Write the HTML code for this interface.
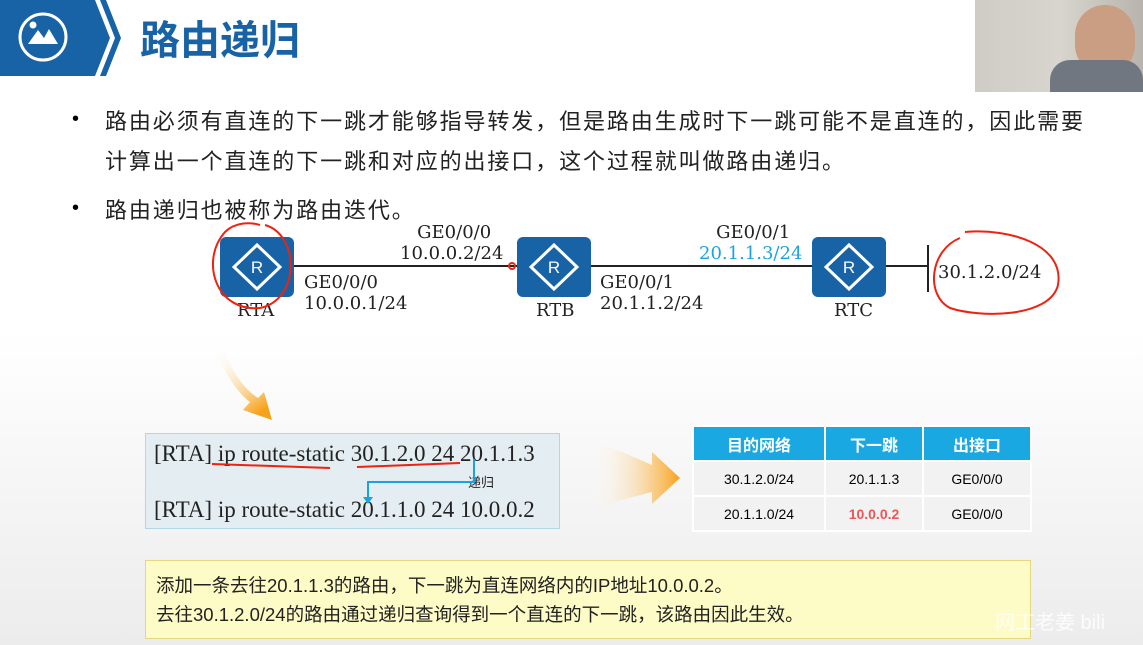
<!DOCTYPE html>
<html><head><meta charset="utf-8"><style>
body{margin:0;width:1143px;height:645px;overflow:hidden;position:relative;font-family:"Liberation Sans","Noto Sans CJK SC",sans-serif;background:linear-gradient(#fff 0,#fff 330px,#ececec 645px);}
.a{position:absolute;white-space:nowrap}
.serif{font-family:"DejaVu Serif","Liberation Serif",serif;font-size:18px;color:#222;line-height:21px}
.bul{font-size:22px;color:#222;letter-spacing:1.9px}
.rt{position:absolute;width:74px;height:60px;background:#1863a6;border-radius:6px}
table{border-collapse:collapse;font-size:14px}
td{border:2px solid #fff;text-align:center;height:31px}
</style></head><body>
<svg class="a" style="left:0;top:0" width="130" height="80">
<polygon points="0,0 95,0 110,38 95,76 0,76" fill="#1863a6"/>
<polygon points="100,0 106,0 121,38 106,76 100,76 115,38" fill="#1863a6"/>
<circle cx="43" cy="37" r="23" fill="none" stroke="#fff" stroke-width="3"/>
<circle cx="33" cy="25" r="3.5" fill="#fff"/>
<polygon points="28,44 38,30 44,38 49,29 58,44" fill="#fff"/>
</svg>
<div class="a" style="left:140px;top:8px;font-size:40px;font-weight:bold;color:#1863a6">路由递归</div>
<div class="a" style="left:975px;top:0;width:168px;height:92px;background:linear-gradient(90deg,#cfccc5,#d8d5ce 50%,#b8b4ad)"><div style="position:absolute;left:100px;top:5px;width:60px;height:70px;border-radius:30px;background:#c99e82"></div><div style="position:absolute;left:75px;top:60px;width:93px;height:32px;background:#707780;border-radius:20px 20px 0 0"></div></div>
<div class="a" style="left:72px;top:108px;font-size:20px">•</div>
<div class="a bul" style="left:105px;top:102px;line-height:40px">路由必须有直连的下一跳才能够指导转发，但是路由生成时下一跳可能不是直连的，因此需要<br>计算出一个直连的下一跳和对应的出接口，这个过程就叫做路由递归。</div>
<div class="a" style="left:72px;top:197px;font-size:20px">•</div>
<div class="a bul" style="left:105px;top:193px">路由递归也被称为路由迭代。</div>
<div class="a" style="left:290px;top:265px;width:638px;height:2px;background:#222"></div>
<div class="a" style="left:927px;top:245px;width:2px;height:47px;background:#222"></div>
<div class="rt" style="left:220px;top:237px"></div>
<div class="rt" style="left:517px;top:237px"></div>
<div class="rt" style="left:812px;top:237px"></div>
<div class="a serif" style="left:237px;top:300px">RTA</div>
<div class="a serif" style="left:536px;top:300px">RTB</div>
<div class="a serif" style="left:834px;top:300px">RTC</div>
<div class="a serif" style="left:304px;top:272px">GE0/0/0<br>10.0.0.1/24</div>
<div class="a serif" style="left:400px;top:222px">&nbsp;&nbsp;&nbsp;GE0/0/0<br>10.0.0.2/24</div>
<div class="a serif" style="left:600px;top:272px">GE0/0/1<br>20.1.1.2/24</div>
<div class="a serif" style="left:699px;top:222px">&nbsp;&nbsp;&nbsp;GE0/0/1<br><span style="color:#19a3e0">20.1.1.3/24</span></div>
<div class="a serif" style="left:938px;top:262px">30.1.2.0/24</div>
<div class="a" style="left:145px;top:433px;width:413px;height:94px;background:#e4edf1;border:1px solid #b3d6e6;font-family:'Liberation Serif',serif;font-size:23px;color:#222">
<div style="position:absolute;left:8px;top:7px">[RTA] ip route-static 30.1.2.0 24 20.1.1.3</div>
<div style="position:absolute;left:8px;top:63px">[RTA] ip route-static 20.1.1.0 24 10.0.0.2</div>
<div style="position:absolute;left:322px;top:38px;font-size:13px;font-family:'Noto Sans CJK SC',sans-serif">递归</div></div>
<table class="a" style="left:692px;top:425px">
<tr style="background:#19a8e2;color:#fff;font-weight:bold;font-size:16px"><td style="width:128px">目的网络</td><td style="width:94px">下一跳</td><td style="width:104px">出接口</td></tr>
<tr style="background:#f2f2f2"><td>30.1.2.0/24</td><td>20.1.1.3</td><td>GE0/0/0</td></tr>
<tr style="background:#f2f2f2"><td>20.1.1.0/24</td><td style="color:#e55;font-weight:bold">10.0.0.2</td><td>GE0/0/0</td></tr></table>
<div class="a" style="left:145px;top:560px;width:884px;height:77px;background:#fdfbc6;border:1px solid #e6d77e;font-size:18.5px;color:#222;line-height:29px">
<div style="position:absolute;left:10px;top:10px">添加一条去往20.1.1.3的路由，下一跳为直连网络内的IP地址10.0.0.2。<br>去往30.1.2.0/24的路由通过递归查询得到一个直连的下一跳，该路由因此生效。</div></div>
<svg class="a" style="left:0;top:0" width="1143" height="645">
<g fill="none" stroke="#fff" stroke-width="3">
<polygon points="257,245 280,267 257,289 234,267"/><polygon points="554,245 577,267 554,289 531,267"/><polygon points="849,245 872,267 849,289 826,267"/></g>
<g fill="#fff" font-size="17" font-family="Liberation Sans" text-anchor="middle"><text x="257" y="273">R</text><text x="554" y="273">R</text><text x="849" y="273">R</text></g>
<g fill="none" stroke="#e21" stroke-width="2">
<path d="M265,225 C300,235 300,300 260,308 C215,312 200,260 225,232 C235,222 250,222 260,225"/>
<path d="M965,232 C1010,228 1065,245 1058,285 C1050,318 980,318 950,308 C925,295 930,250 960,238"/>
<path d="M212,464 L330,468"/><path d="M357,467 L460,463"/>
<circle cx="512" cy="266" r="3"/></g>
<g fill="none" stroke="#19a3e0" stroke-width="2"><path d="M474,459 L474,482 L368,482 L368,500"/></g>
<polygon points="363,497 373,497 368,504" fill="#19a3e0"/>
<defs><linearGradient id="g" x1="0" x2="1"><stop offset="0" stop-color="#fff" stop-opacity="0"/><stop offset="1" stop-color="#f7a21b"/></linearGradient>
<linearGradient id="g2" x1="0" y1="0" x2="0.6" y2="1"><stop offset="0" stop-color="#fff" stop-opacity="0"/><stop offset="1" stop-color="#f7a21b"/></linearGradient></defs>
<path d="M590,440 C620,450 640,460 652,465 L652,452 L680,478 L652,504 L652,492 C640,495 620,500 590,510 Z" fill="url(#g)"/>
<path d="M215,350 C225,375 240,395 250,402 L243,410 L272,420 L264,392 L258,398 C245,390 232,372 225,352 Z" fill="url(#g2)"/>
</svg>
<div class="a" style="left:995px;top:606px;font-size:20px;color:rgba(255,255,255,0.8)">网工老姜 bili</div>
</body></html>
